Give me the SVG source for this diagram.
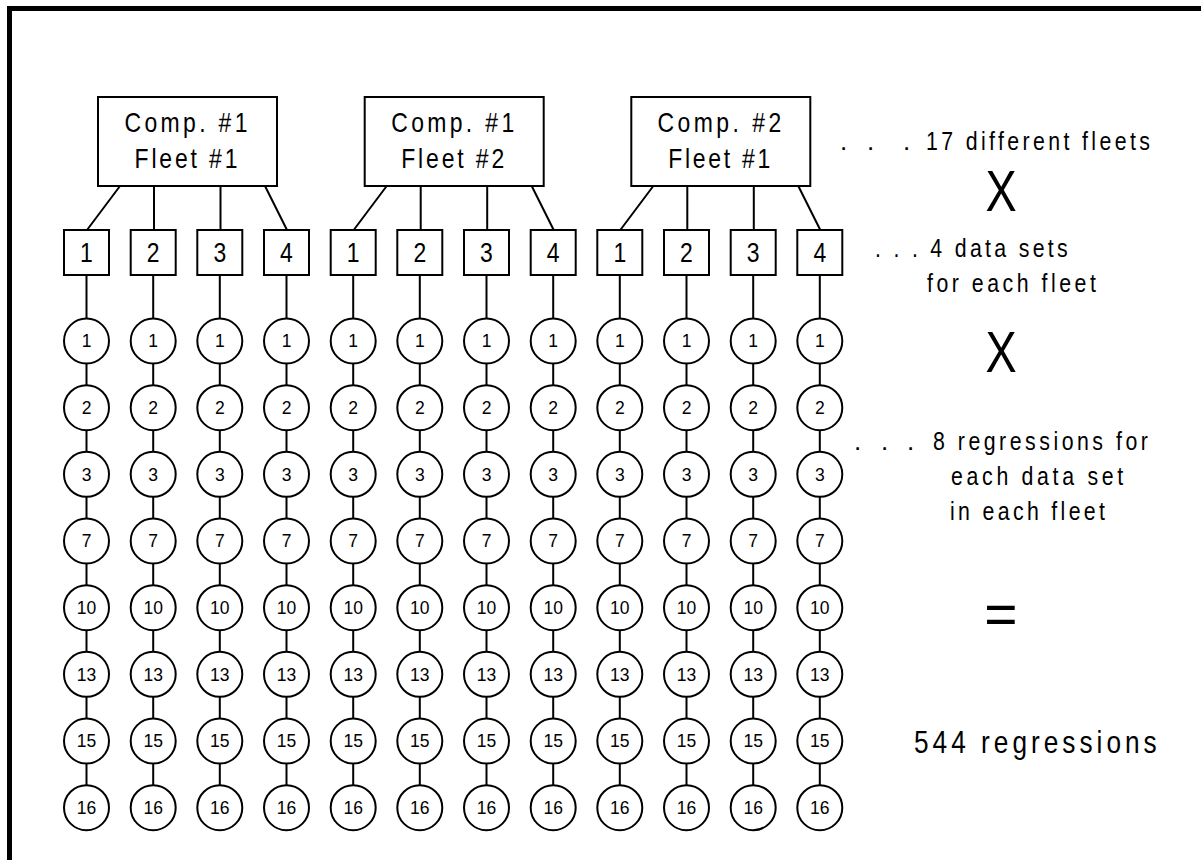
<svg xmlns="http://www.w3.org/2000/svg" width="1201" height="860" viewBox="0 0 1201 860">
<style>
.box{fill:#fff;stroke:#000;stroke-width:2}
.circ{fill:#fff;stroke:#000;stroke-width:2}
.ln{fill:none;stroke:#000;stroke-width:2}
.t{font-family:"Liberation Sans",Arial,sans-serif;fill:#000}
.big{font-size:28px;text-anchor:middle}
.num{font-size:28px;text-anchor:middle}
.cn{font-family:"Liberation Sans",Arial,sans-serif;font-size:17.5px;text-anchor:middle;fill:#000}
.r{font-size:26px}
.op{font-size:57px;text-anchor:middle}
</style>
<rect width="1201" height="860" fill="#fff"/>
<path d="M9.5 6V860M7 8.5H1201" stroke="#000" stroke-width="5" fill="none"/>
<g id="connectors" class="ln">
<path d="M120 186L87 230M154 186V230M220.5 186V230M265 186L287 230"/>
<path d="M386.7 186L353.7 230M420.7 186V230M487.2 186V230M531.7 186L553.7 230"/>
<path d="M653.3 186L620.3 230M687.3 186V230M753.8 186V230M798.3 186L820.3 230"/>
<g id="chains">
<path d="M86.5 275V786"/><path d="M153.2 275V786"/><path d="M219.8 275V786"/><path d="M286.5 275V786"/>
<path d="M353.2 275V786"/><path d="M419.8 275V786"/><path d="M486.5 275V786"/><path d="M553.2 275V786"/>
<path d="M619.8 275V786"/><path d="M686.5 275V786"/><path d="M753.2 275V786"/><path d="M819.8 275V786"/>
</g>
</g>
<g id="fleet-c1f1"><rect class="box" x="98" y="97" width="179" height="89"/>
<g transform="translate(186 132) scale(0.82 1)"><text class="t big" x="0" y="0" textLength="150">Comp. #1</text></g>
<g transform="translate(186 168) scale(0.82 1)"><text class="t big" x="0" y="0" textLength="125.6">Fleet #1</text></g></g>
<g id="fleet-c1f2"><rect class="box" x="364.7" y="97" width="179" height="89"/>
<g transform="translate(452.7 132) scale(0.82 1)"><text class="t big" x="0" y="0" textLength="150">Comp. #1</text></g>
<g transform="translate(452.7 168) scale(0.82 1)"><text class="t big" x="0" y="0" textLength="125.6">Fleet #2</text></g></g>
<g id="fleet-c2f1"><rect class="box" x="631.3" y="97" width="179" height="89"/>
<g transform="translate(719.3 132) scale(0.82 1)"><text class="t big" x="0" y="0" textLength="151">Comp. #2</text></g>
<g transform="translate(719.3 168) scale(0.82 1)"><text class="t big" x="0" y="0" textLength="124.4">Fleet #1</text></g></g>
<g id="datasets">
<g id="ds-1-1"><rect class="box" x="64" y="230" width="45" height="45"/><text class="t num" transform="translate(86.5 262) scale(0.82 1)">1</text></g>
<g id="ds-1-2"><rect class="box" x="130.7" y="230" width="45" height="45"/><text class="t num" transform="translate(153.2 262) scale(0.82 1)">2</text></g>
<g id="ds-1-3"><rect class="box" x="197.3" y="230" width="45" height="45"/><text class="t num" transform="translate(219.8 262) scale(0.82 1)">3</text></g>
<g id="ds-1-4"><rect class="box" x="264" y="230" width="45" height="45"/><text class="t num" transform="translate(286.5 262) scale(0.82 1)">4</text></g>
<g id="ds-2-1"><rect class="box" x="330.7" y="230" width="45" height="45"/><text class="t num" transform="translate(353.2 262) scale(0.82 1)">1</text></g>
<g id="ds-2-2"><rect class="box" x="397.3" y="230" width="45" height="45"/><text class="t num" transform="translate(419.8 262) scale(0.82 1)">2</text></g>
<g id="ds-2-3"><rect class="box" x="464" y="230" width="45" height="45"/><text class="t num" transform="translate(486.5 262) scale(0.82 1)">3</text></g>
<g id="ds-2-4"><rect class="box" x="530.7" y="230" width="45" height="45"/><text class="t num" transform="translate(553.2 262) scale(0.82 1)">4</text></g>
<g id="ds-3-1"><rect class="box" x="597.3" y="230" width="45" height="45"/><text class="t num" transform="translate(619.8 262) scale(0.82 1)">1</text></g>
<g id="ds-3-2"><rect class="box" x="664" y="230" width="45" height="45"/><text class="t num" transform="translate(686.5 262) scale(0.82 1)">2</text></g>
<g id="ds-3-3"><rect class="box" x="730.7" y="230" width="45" height="45"/><text class="t num" transform="translate(753.2 262) scale(0.82 1)">3</text></g>
<g id="ds-3-4"><rect class="box" x="797.3" y="230" width="45" height="45"/><text class="t num" transform="translate(819.8 262) scale(0.82 1)">4</text></g>
</g>
<defs>
<g id="col">
<circle class="circ" cx="0" cy="341" r="22.5"/><text class="cn" x="0" y="347.3">1</text>
<circle class="circ" cx="0" cy="407.7" r="22.5"/><text class="cn" x="0" y="414">2</text>
<circle class="circ" cx="0" cy="474.3" r="22.5"/><text class="cn" x="0" y="480.6">3</text>
<circle class="circ" cx="0" cy="541" r="22.5"/><text class="cn" x="0" y="547.3">7</text>
<circle class="circ" cx="0" cy="607.7" r="22.5"/><text class="cn" x="0" y="614">10</text>
<circle class="circ" cx="0" cy="674.3" r="22.5"/><text class="cn" x="0" y="680.6">13</text>
<circle class="circ" cx="0" cy="741" r="22.5"/><text class="cn" x="0" y="747.3">15</text>
<circle class="circ" cx="0" cy="807.7" r="22.5"/><text class="cn" x="0" y="814">16</text>
</g>
</defs>
<g id="regressions">
<use id="reg-1-1" href="#col" x="86.5"/><use id="reg-1-2" href="#col" x="153.2"/><use id="reg-1-3" href="#col" x="219.8"/><use id="reg-1-4" href="#col" x="286.5"/>
<use id="reg-2-1" href="#col" x="353.2"/><use id="reg-2-2" href="#col" x="419.8"/><use id="reg-2-3" href="#col" x="486.5"/><use id="reg-2-4" href="#col" x="553.2"/>
<use id="reg-3-1" href="#col" x="619.8"/><use id="reg-3-2" href="#col" x="686.5"/><use id="reg-3-3" href="#col" x="753.2"/><use id="reg-3-4" href="#col" x="819.8"/>
</g>
<g id="summary">
<text class="t r" y="150"><tspan x="840">.</tspan><tspan x="867">.</tspan><tspan x="903">.</tspan></text>
<text class="t r" transform="translate(926 150) scale(0.82 1)" textLength="273">17 different fleets</text>
<text class="t op" transform="translate(1001 211) scale(0.82 1)">X</text>
<text class="t r" transform="translate(875 257) scale(0.82 1)" textLength="235">. . . 4 data sets</text>
<text class="t r" transform="translate(927 292) scale(0.82 1)" textLength="206">for each fleet</text>
<text class="t op" transform="translate(1001 372) scale(0.82 1)">X</text>
<text class="t r" y="450"><tspan x="854">.</tspan><tspan x="881">.</tspan><tspan x="907">.</tspan></text>
<text class="t r" transform="translate(933 450) scale(0.82 1)" textLength="262">8 regressions for</text>
<text class="t r" transform="translate(951 485) scale(0.82 1)" textLength="210">each data set</text>
<text class="t r" transform="translate(950 520) scale(0.82 1)" textLength="189">in each fleet</text>
<text class="t op" x="1001" y="634" font-size="54">=</text>
<text class="t" transform="translate(914 753) scale(0.82 1)" font-size="32" textLength="296">544 regressions</text>
</g>
</svg>
